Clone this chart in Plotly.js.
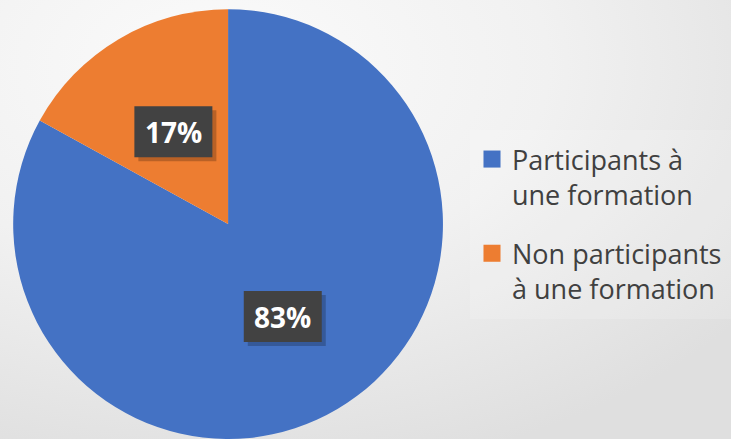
<!DOCTYPE html>
<html>
<head>
<meta charset="utf-8">
<script src="https://cdn.plot.ly/plotly-3.0.1.min.js"></script>
<style>
  html, body { margin: 0; padding: 0; }
  body { width: 731px; height: 439px; overflow: hidden;
    background: radial-gradient(ellipse 90% 95% at 30% 15%, #fbfbfb 0%, #f1f1f1 50%, #dfdfdf 100%); }
  #chart { width: 731px; height: 439px; }
</style>
</head>
<body>
<div id="chart"></div>
<script>
const categories = ["Participants à<br>une formation", "Non participants<br>à une formation"];
const values = [83, 17];
const sliceColors = ["#4472C4", "#ED7D31"];
const labelText = ["83%", "17%"];

const W = 731, H = 439;
const domX = [0.018, 0.606];
const domY = [0.0, 0.979];

// Label positions computed from the data (clockwise from 12 o'clock)
const total = values.reduce((a, b) => a + b, 0);
const cxPx = (domX[0] + domX[1]) / 2 * W;
const cyPx = (domY[0] + domY[1]) / 2 * H;
const rPx = Math.min((domX[1] - domX[0]) * W, (domY[1] - domY[0]) * H) / 2;
const annotations = [];
const shapes = [];
const boxW = 78, boxH = 51;
let cum = 0;
values.forEach((v, i) => {
  const mid = (cum + v / 2) / total * 2 * Math.PI;
  cum += v;
  const rr = 0.5 * rPx;
  const px = cxPx + rr * Math.sin(mid);
  const py = cyPx + rr * Math.cos(mid); // from bottom
  shapes.push({
    type: "rect", xref: "paper", yref: "paper", layer: "above",
    x0: (px - boxW / 2 + 4) / W, x1: (px + boxW / 2 + 4) / W,
    y0: (py - boxH / 2 - 4) / H, y1: (py + boxH / 2 - 4) / H,
    fillcolor: "rgba(0,0,0,0.22)", line: { width: 0 }
  });
  shapes.push({
    type: "rect", xref: "paper", yref: "paper", layer: "above",
    x0: (px - boxW / 2) / W, x1: (px + boxW / 2) / W,
    y0: (py - boxH / 2) / H, y1: (py + boxH / 2) / H,
    fillcolor: "#424242", line: { width: 0 }
  });
  annotations.push({
    x: px / W, y: py / H, xref: "paper", yref: "paper",
    text: labelText[i], showarrow: false,
    font: { family: "Open Sans, sans-serif", size: 28, color: "#ffffff", weight: "bold" },
    xanchor: "center", yanchor: "middle"
  });
});

// faint legend panel
shapes.push({
  type: "rect", xref: "paper", yref: "paper", layer: "below",
  x0: 470 / W, x1: 1, y0: (H - 319) / H, y1: (H - 130) / H,
  fillcolor: "rgba(255,255,255,0.15)", line: { width: 0 }
});

const data = [{
  type: "pie",
  labels: categories,
  values: values,
  marker: { colors: sliceColors, line: { width: 0 } },
  sort: false,
  direction: "clockwise",
  rotation: 0,
  textinfo: "none",
  hoverinfo: "label+percent",
  domain: { x: domX, y: domY }
}];

const layout = {
  width: W, height: H,
  margin: { l: 0, r: 0, t: 0, b: 0 },
  paper_bgcolor: "rgba(0,0,0,0)",
  plot_bgcolor: "rgba(0,0,0,0)",
  showlegend: true,
  legend: {
    x: 472 / W, y: (H - 135) / H, xanchor: "left", yanchor: "top",
    font: { family: "Open Sans, sans-serif", size: 27, color: "#404040" },
    bgcolor: "rgba(0,0,0,0)",
    valign: "top",
    itemwidth: 30
  },
  shapes: shapes,
  annotations: annotations
};

Plotly.newPlot("chart", data, layout, { displayModeBar: false, staticPlot: true }).then(gd => {
  // Enlarge legend squares and open up the gap between the two entries, as in the reference
  const sb = gd.querySelector(".legend .scrollbox");
  if (sb) sb.removeAttribute("clip-path");
  const lg = gd.querySelector(".legend");
  if (lg) lg.removeAttribute("clip-path");
  gd.querySelectorAll(".legend .legendpoints path").forEach(p => {
    const t = p.getAttribute("transform") || "";
    p.setAttribute("transform", t + " scale(1.42)");
  });
  const items = gd.querySelectorAll(".legend .traces");
  items.forEach((g, i) => {
    if (i === 0) return;
    const t = g.getAttribute("transform") || "";
    const m = t.match(/translate\(([-\d.]+),\s*([-\d.]+)\)/);
    if (m) g.setAttribute("transform", `translate(${m[1]},${parseFloat(m[2]) + 21 * i})`);
  });
});
</script>
</body>
</html>
